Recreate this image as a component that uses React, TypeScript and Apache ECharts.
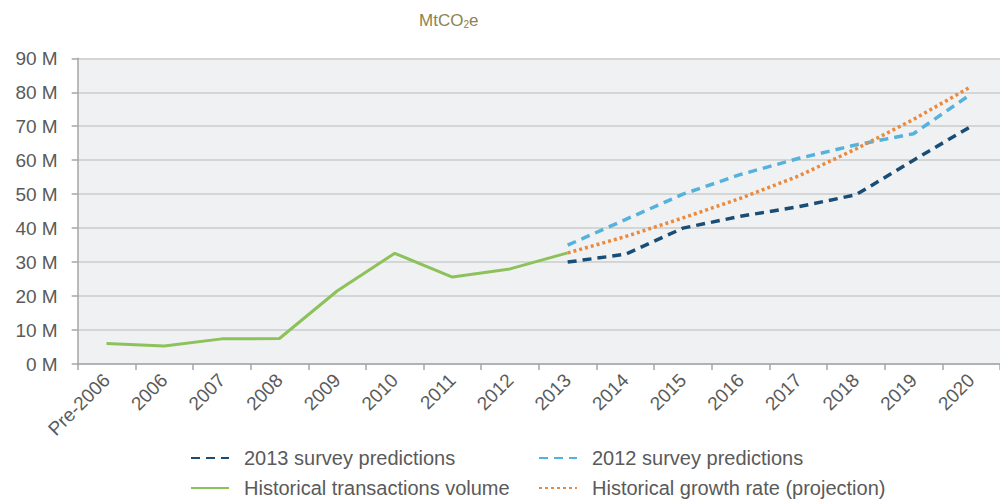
import React, { useEffect, useRef } from "react";
import * as echarts from "echarts";

const categories = [
  "Pre-2006", "2006", "2007", "2008", "2009", "2010", "2011", "2012",
  "2013", "2014", "2015", "2016", "2017", "2018", "2019", "2020",
];
const historical = [6, 5.3, 7.4, 7.5, 21.5, 32.6, 25.6, 28, 32.7, null, null, null, null, null, null, null];
const survey2013 = [null, null, null, null, null, null, null, null, 30, 32.3, 40, 43.5, 46.3, 49.8, 60, 70];
const survey2012 = [null, null, null, null, null, null, null, null, 35, 42.5, 50, 55.8, 60.5, 64.5, 67.8, 79.5];
const growth = [null, null, null, null, null, null, null, null, 32.7, 37.5, 43, 48.8, 55.3, 63.3, 72, 81.7];
const yTicks = [0, 10, 20, 30, 40, 50, 60, 70, 80, 90];

const FONT = "'Liberation Sans', Arial, sans-serif";
const LABEL = "#5a5a5a";

const legendBase = {
  orient: "vertical",
  top: 443,
  height: 90,
  itemWidth: 38,
  itemHeight: 14,
  itemGap: 10,
  itemStyle: { opacity: 0 },
  textStyle: { fontFamily: FONT, fontSize: 20, color: LABEL, padding: [0, 0, 0, 10] },
};

export default function App() {
  const ref = useRef<HTMLDivElement>(null);
  useEffect(() => {
    document.body.style.margin = "0";
    document.body.style.overflow = "hidden";
    const chart = echarts.init(ref.current!, null, { renderer: "svg" });
    chart.setOption({
      animation: false,
      backgroundColor: "#ffffff",
      textStyle: { fontFamily: FONT },
      title: {
        text: "MtCO{sub|2}e",
        left: 414,
        top: 7,
        textStyle: {
          fontFamily: FONT,
          fontSize: 17,
          fontWeight: "normal",
          color: "#8c8450",
          rich: {
            sub: { fontFamily: FONT, fontSize: 10, color: "#8c8450", verticalAlign: "bottom", padding: [7, 0, 0, 0] },
          },
        },
      },
      legend: [
        { ...legendBase, data: ["2013 survey predictions", "Historical transactions volume"], left: 185 },
        { ...legendBase, data: ["2012 survey predictions", "Historical growth rate (projection)"], left: 533 },
      ],
      grid: { left: 77.7, right: -8.7, top: 58.3, bottom: 138, backgroundColor: "#f0f1f3", show: true, borderWidth: 0 },
      xAxis: {
        type: "category",
        data: categories,
        boundaryGap: true,
        axisLine: { show: true, lineStyle: { color: "#a6a6a6", width: 1.5 } },
        axisTick: { show: true, length: 6, lineStyle: { color: "#a6a6a6", width: 1.5 } },
        axisLabel: { rotate: 45, margin: 13, fontSize: 19, color: LABEL, fontFamily: FONT, interval: 0 },
      },
      yAxis: {
        type: "value",
        min: 0,
        max: 90,
        interval: 10,
        axisLine: { show: true, lineStyle: { color: "#a6a6a6", width: 1.5 } },
        axisTick: { show: true, length: 6, lineStyle: { color: "#a6a6a6", width: 1.5 } },
        splitLine: { show: true, lineStyle: { color: "#cbcbcb", width: 1.5 } },
        axisLabel: {
          fontSize: 19,
          color: LABEL,
          fontFamily: FONT,
          margin: 20,
          formatter: (v: number) => (yTicks.includes(v) ? `${v} M` : ""),
        },
      },
      series: [
        {
          name: "2013 survey predictions",
          type: "line",
          data: survey2013,
          symbol: "none",
          lineStyle: { color: "#1a4d75", width: 3.5, type: [9, 6] },
          itemStyle: { color: "#1a4d75" },
          z: 3,
        },
        {
          name: "Historical transactions volume",
          type: "line",
          data: historical,
          symbol: "none",
          lineStyle: { color: "#8dc15a", width: 3 },
          itemStyle: { color: "#8dc15a" },
          z: 2,
        },
        {
          name: "2012 survey predictions",
          type: "line",
          data: survey2012,
          symbol: "none",
          lineStyle: { color: "#55b2dc", width: 3.5, type: [9, 6] },
          itemStyle: { color: "#55b2dc" },
          z: 3,
        },
        {
          name: "Historical growth rate (projection)",
          type: "line",
          data: growth,
          symbol: "none",
          lineStyle: { color: "#ea8a3f", width: 3.5, type: [3, 3] },
          itemStyle: { color: "#ea8a3f" },
          z: 4,
        },
      ],
    });
    return () => chart.dispose();
  }, []);
  return <div ref={ref} style={{ width: 1000, height: 502 }} />;
}
